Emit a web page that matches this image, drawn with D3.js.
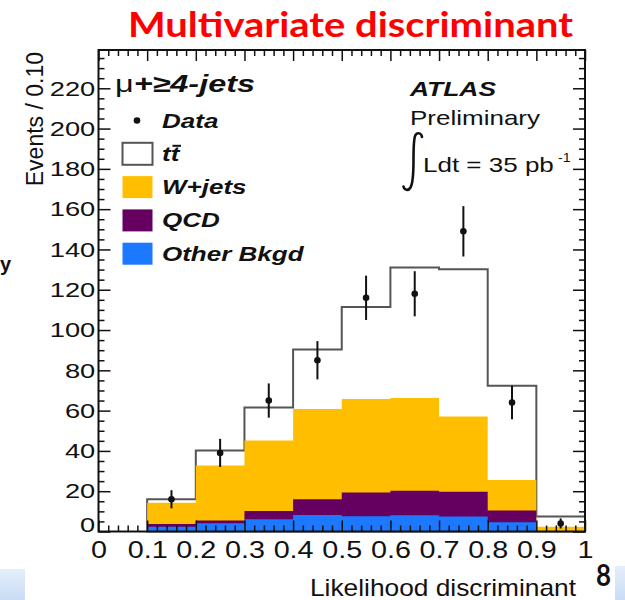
<!DOCTYPE html>
<html>
<head>
<meta charset="utf-8">
<script src="https://cdn.jsdelivr.net/npm/d3@7"></script>
<style>
  html, body { margin: 0; padding: 0; background: #fff; }
  svg { display: block; }
</style>
</head>
<body>
<svg id="chart" width="625" height="600"></svg>
<script>
// Lower edges of the likelihood-discriminant bins (width 0.1)
const binLow = [0.1, 0.2, 0.3, 0.4, 0.5, 0.6, 0.7, 0.8, 0.9];
const binWidth = 0.1;

// Stacked expectations per bin (events / 0.10)
const otherBkgd = [2.4, 4.1, 6.1, 8.2, 7.6, 8.1, 7.4, 4.6, 0];
const qcd       = [1.3, 1.3, 4.1, 7.8, 11.7, 12.1, 12.3, 5.8, 0];
const wJets     = [10.6, 27.4, 35.0, 44.8, 46.5, 46.1, 37.4, 15.2, 2.4];
const ttbar     = [1.7, 7.4, 16.3, 29.5, 45.6, 64.7, 73.1, 46.8, 5.0];

// Observed data with statistical errors
const dataCounts = [16, 39, 65, 85, 116, 118, 149, 64, 4];
const dataErr    = [4.5, 7, 8.5, 9.5, 11, 11.2, 12.5, 8.3, 2.5];

// Axis tick labels
const xTickValues = [0, 0.1, 0.2, 0.3, 0.4, 0.5, 0.6, 0.7, 0.8, 0.9, 1];
const xTickLabels = ["0", "0.1", "0.2", "0.3", "0.4", "0.5", "0.6", "0.7", "0.8", "0.9", "1"];
const yTickValues = [0, 20, 40, 60, 80, 100, 120, 140, 160, 180, 200, 220];
const yTickLabels = ["0", "20", "40", "60", "80", "100", "120", "140", "160", "180", "200", "220"];

const colors = { other: "#1c78ff", qcd: "#650060", wjets: "#ffbf00", ttbar: "#ffffff" };
const SANS = "'Liberation Sans', Arial, Helvetica, sans-serif";

const svg = d3.select("#chart");
const plot = { left: 98.5, right: 585, top: 50, bottom: 531.5 };

const x = d3.scaleLinear().domain([0, 1]).range([plot.left, plot.right]);
const y = d3.scaleLinear().domain([0, 239]).range([plot.bottom, plot.top]);

// slide footer accents
const grad = svg.append("defs").append("linearGradient").attr("id", "band")
  .attr("x1", 0).attr("x2", 0).attr("y1", 0).attr("y2", 1);
grad.append("stop").attr("offset", 0).attr("stop-color", "#e4eefb");
grad.append("stop").attr("offset", 1).attr("stop-color", "#c9dcf5");
svg.append("rect").attr("x", 0).attr("y", 569).attr("width", 25).attr("height", 31).attr("fill", "url(#band)");
svg.append("rect").attr("x", 615).attr("y", 566).attr("width", 10).attr("height", 34).attr("fill", "url(#band)");

// slide title
svg.append("text")
  .attr("x", 128).attr("y", 37)
  .attr("font-family", "Lato, 'Open Sans', sans-serif")
  .attr("font-weight", "bold").attr("font-size", 34)
  .attr("fill", "#ff0000")
  .attr("textLength", 445).attr("lengthAdjust", "spacingAndGlyphs")
  .text("Multivariate discriminant");

// slide text peeking out at the left edge
svg.append("text").attr("x", 0).attr("y", 271)
  .attr("font-family", SANS).attr("font-weight", "bold").attr("font-size", 20)
  .attr("fill", "#111").text("y");

// page number
svg.append("text").attr("x", 596).attr("y", 586)
  .attr("font-family", "Lato, sans-serif").attr("font-weight", "bold").attr("font-size", 30)
  .attr("fill", "#111").attr("textLength", 15).attr("lengthAdjust", "spacingAndGlyphs")
  .text("8");

// ---- stacked histogram ----
const rows = binLow.map((b, i) => ({
  x0: b, other: otherBkgd[i], qcd: qcd[i], wjets: wJets[i], ttbar: ttbar[i]
}));
const layers = d3.stack().keys(["other", "qcd", "wjets", "ttbar"])(rows);

// step points along the top of a cumulative layer
function stepPoints(layer) {
  const pts = [];
  layer.forEach(d => {
    pts.push({ x: d.data.x0, v: d[1] });
    pts.push({ x: d.data.x0 + binWidth, v: d[1] });
  });
  return pts;
}
const area = d3.area()
  .x(d => x(d.x))
  .y0(y(0))
  .y1(d => y(d.v));

const gHist = svg.append("g");
// draw the largest cumulative layer first so lower ones sit on top
layers.slice().reverse().forEach(layer => {
  const key = layer.key;
  const p = gHist.append("path")
    .attr("d", area(stepPoints(layer)))
    .attr("fill", colors[key]);
  if (key === "ttbar") {
    p.attr("stroke", "#555").attr("stroke-width", 2).attr("stroke-linejoin", "miter");
  }
});

// ---- axes with ticks on all four sides ----
const minorX = d3.range(0, 1.0001, 0.02).filter(v => Math.abs(v * 10 - Math.round(v * 10)) > 1e-6);
const minorY = d3.range(0, 239, 5).filter(v => v % 20 !== 0);

function styleAxis(g) {
  g.select(".domain").remove();
  g.selectAll(".tick line").attr("stroke", "#111").attr("stroke-width", 1.5);
}

// bottom
const gxB = svg.append("g").attr("transform", `translate(0,${plot.bottom})`)
  .call(d3.axisBottom(x).tickValues(xTickValues).tickSize(-11).tickPadding(10)
    .tickFormat((d, i) => xTickLabels[i]));
styleAxis(gxB);
gxB.selectAll("text")
  .attr("font-family", SANS).attr("font-size", 23).attr("fill", "#111")
  .attr("transform", "scale(1.25,1)");
svg.append("g").attr("transform", `translate(0,${plot.bottom})`)
  .call(d3.axisBottom(x).tickValues(minorX).tickSize(-6).tickFormat(""))
  .call(styleAxis);

// top
svg.append("g").attr("transform", `translate(0,${plot.top})`)
  .call(d3.axisTop(x).tickValues(xTickValues).tickSize(-11).tickFormat(""))
  .call(styleAxis);
svg.append("g").attr("transform", `translate(0,${plot.top})`)
  .call(d3.axisTop(x).tickValues(minorX).tickSize(-6).tickFormat(""))
  .call(styleAxis);

// left
const gyL = svg.append("g").attr("transform", `translate(${plot.left},0)`)
  .call(d3.axisLeft(y).tickValues(yTickValues).tickSize(-12).tickPadding(2.5)
    .tickFormat((d, i) => yTickLabels[i]));
styleAxis(gyL);
gyL.selectAll("text")
  .attr("font-family", SANS).attr("font-size", 21).attr("fill", "#111")
  .attr("transform", "scale(1.3,1)");
gyL.selectAll(".tick").filter(d => d === 0).select("text").attr("y", -6.5);
svg.append("g").attr("transform", `translate(${plot.left},0)`)
  .call(d3.axisLeft(y).tickValues(minorY).tickSize(-6).tickFormat(""))
  .call(styleAxis);

// right
svg.append("g").attr("transform", `translate(${plot.right},0)`)
  .call(d3.axisRight(y).tickValues(yTickValues).tickSize(-12).tickFormat(""))
  .call(styleAxis);
svg.append("g").attr("transform", `translate(${plot.right},0)`)
  .call(d3.axisRight(y).tickValues(minorY).tickSize(-6).tickFormat(""))
  .call(styleAxis);

// frame
svg.append("rect")
  .attr("x", plot.left).attr("y", plot.top)
  .attr("width", plot.right - plot.left).attr("height", plot.bottom - plot.top)
  .attr("fill", "none").attr("stroke", "#111").attr("stroke-width", 2);

// ---- data points with error bars ----
const gData = svg.append("g");
binLow.forEach((b, i) => {
  const cx = x(b + binWidth / 2);
  gData.append("line")
    .attr("x1", cx).attr("x2", cx)
    .attr("y1", y(dataCounts[i] - dataErr[i])).attr("y2", y(dataCounts[i] + dataErr[i]))
    .attr("stroke", "#111").attr("stroke-width", 2);
  gData.append("circle")
    .attr("cx", cx).attr("cy", y(dataCounts[i])).attr("r", 3.3)
    .attr("fill", "#111");
});

// axis titles
svg.append("text")
  .attr("transform", "translate(43,52) rotate(-90)")
  .attr("text-anchor", "end")
  .attr("font-family", SANS).attr("font-size", 23).attr("fill", "#111")
  .text("Events / 0.10");

svg.append("text")
  .attr("x", 310).attr("y", 596)
  .attr("font-family", SANS).attr("font-size", 24).attr("fill", "#111")
  .attr("textLength", 266).attr("lengthAdjust", "spacingAndGlyphs")
  .text("Likelihood discriminant");

// ---- legend ----
function label(x0, y0, str, size, weight, style, sx) {
  return svg.append("text")
    .attr("transform", `translate(${x0},${y0}) scale(${sx},1)`)
    .attr("font-family", SANS).attr("font-size", size)
    .attr("font-weight", weight).attr("font-style", style)
    .attr("fill", "#111").text(str);
}

const chan = svg.append("text")
  .attr("x", 115).attr("y", 92)
  .attr("font-family", SANS).attr("font-size", 24).attr("fill", "#111")
  .attr("textLength", 140).attr("lengthAdjust", "spacingAndGlyphs");
chan.append("tspan").text("\u03bc");
chan.append("tspan").attr("font-weight", "bold").attr("font-style", "italic").text("+\u22654-jets");

const legendItems = [
  { key: "data",  text: "Data" },
  { key: "ttbar", text: "tt" },
  { key: "wjets", text: "W+jets" },
  { key: "qcd",   text: "QCD" },
  { key: "other", text: "Other Bkgd" }
];
legendItems.forEach((it, i) => {
  const cy = 120.5 + i * 33.3;
  if (it.key === "data") {
    svg.append("circle").attr("cx", 137).attr("cy", cy).attr("r", 3.3).attr("fill", "#111");
  } else {
    svg.append("rect")
      .attr("x", 122.5).attr("y", cy - 11).attr("width", 30).attr("height", 22)
      .attr("fill", colors[it.key])
      .attr("stroke", it.key === "ttbar" ? "#555" : "none")
      .attr("stroke-width", 2);
  }
  label(162, cy + 7, it.text, 20, "bold", "italic", 1.3);
  if (it.key === "ttbar") {
    // bar over the second t
    svg.append("line")
      .attr("x1", 172.5).attr("x2", 181)
      .attr("y1", cy - 8).attr("y2", cy - 8)
      .attr("stroke", "#111").attr("stroke-width", 2);
  }
});

// ---- experiment annotation ----
label(410, 96, "ATLAS", 20, "bold", "italic", 1.32);
label(410, 125, "Preliminary", 20, "normal", "normal", 1.3);
svg.append("path")
  .attr("d", "M422,137 C421.5,133 417.5,132 415.5,135 C413.5,138 413.5,146 413.5,160 C413.5,176 412.5,184 410.5,187.5 C408.5,191 404.5,190.5 403.5,186.5")
  .attr("fill", "none").attr("stroke", "#111").attr("stroke-width", 2.6).attr("stroke-linecap", "round");
label(423, 172, "Ldt = 35 pb", 20, "normal", "normal", 1.3);
label(558, 162, "-1", 12, "normal", "normal", 1.2);
</script>
</body>
</html>
